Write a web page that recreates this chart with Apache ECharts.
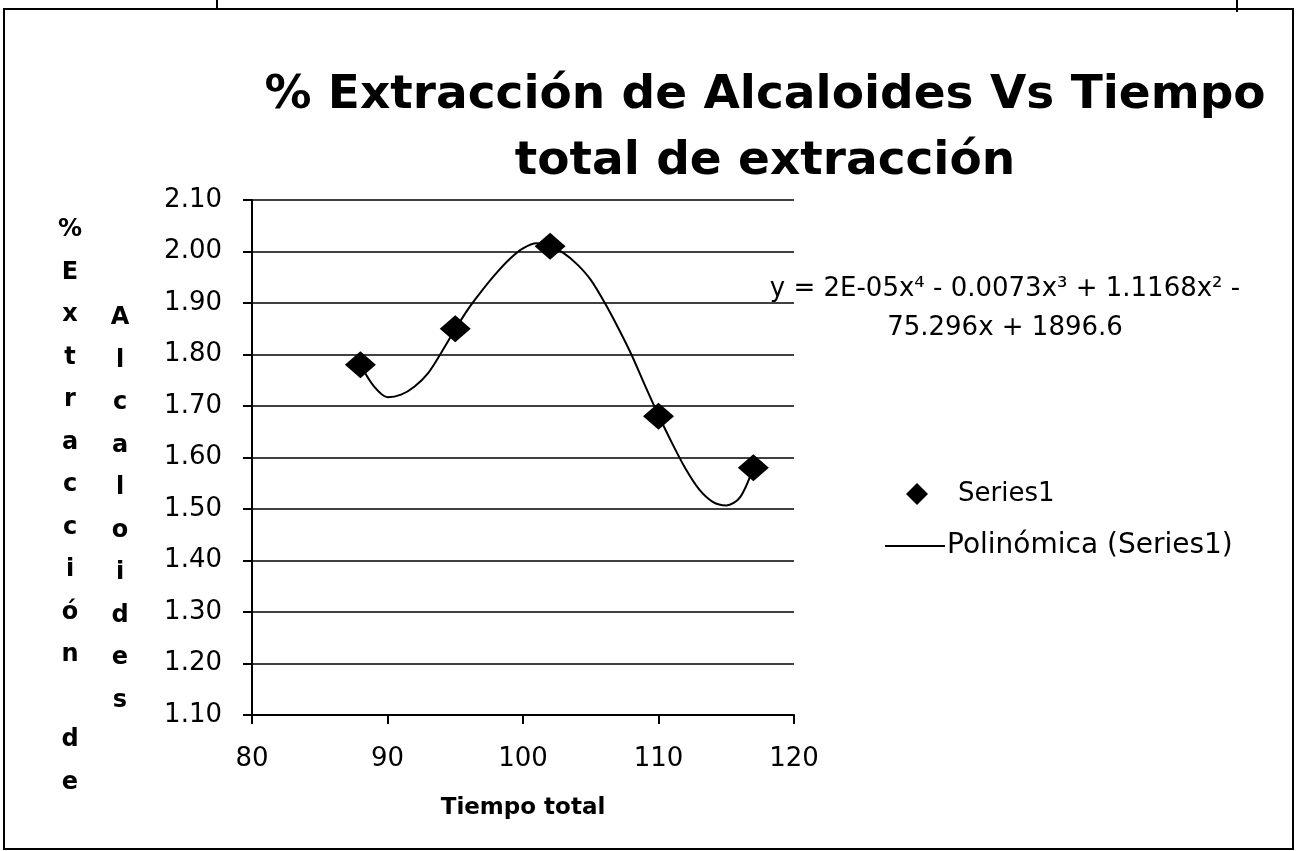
<!DOCTYPE html>
<html>
<head>
<meta charset="utf-8">
<script src="https://cdn.jsdelivr.net/npm/echarts@6/dist/echarts.min.js"></script>
<style>html,body{margin:0;padding:0;background:#fff;}#c{width:1297px;height:851px;}</style>
</head>
<body>
<div id="c"></div>
<script>
// ---- data ----
const titleLines = ['% Extracción de Alcaloides Vs Tiempo', 'total de extracción'];
const xTitle = 'Tiempo total';
const yTitleCol1 = ['%', 'E', 'x', 't', 'r', 'a', 'c', 'c', 'i', 'ó', 'n', '', 'd', 'e'];
const yTitleCol2 = ['A', 'l', 'c', 'a', 'l', 'o', 'i', 'd', 'e', 's'];
const seriesName = 'Series1';
const trendName = 'Polinómica (Series1)';
const equationLines = ['y = 2E-05x⁴ - 0.0073x³ + 1.1168x² -', '75.296x + 1896.6'];

const tiempo = [88, 95, 102, 110, 117];
const extraccion = [1.78, 1.85, 2.01, 1.68, 1.58];

// polynomial trend line
const trendX = [88, 89, 90, 91, 92, 93, 94, 95, 96, 97, 98, 99, 100, 101, 102, 103, 104, 105, 106, 107, 108, 109, 110, 111, 112, 113, 114, 115, 116, 117];
const trendY = [1.780, 1.738, 1.717, 1.722, 1.738, 1.764, 1.805, 1.849, 1.890, 1.925, 1.957, 1.985, 2.006, 2.016, 2.010, 1.997, 1.975, 1.945, 1.902, 1.853, 1.800, 1.740, 1.682, 1.628, 1.578, 1.538, 1.514, 1.507, 1.522, 1.580];

const xMin = 80, xMax = 120, xStep = 10;
const yMin = 1.1, yMax = 2.1, yStep = 0.1;

// ---- chart ----
const FONT = '"DejaVu Sans", "Open Sans", sans-serif';
const chart = echarts.init(document.getElementById('c'), null, {renderer: 'canvas'});

const option = {
  backgroundColor: '#fff',
  animation: false,
  title: {
    text: titleLines.join('\n'),
    left: 760,
    top: 58,
    textAlign: 'center',
    textStyle: {fontFamily: FONT, fontWeight: 'bold', fontSize: 47, lineHeight: 66, color: '#000'}
  },
  grid: {left: 252, top: 200, width: 542, height: 515, containLabel: false},
  xAxis: {
    type: 'value', min: xMin, max: xMax, interval: xStep,
    name: xTitle, nameLocation: 'middle', nameGap: 82,
    nameTextStyle: {fontFamily: FONT, fontWeight: 'bold', fontSize: 23, color: '#000'},
    axisLine: {lineStyle: {color: '#000', width: 2}},
    axisTick: {show: true, length: 9, lineStyle: {color: '#000', width: 2}},
    axisLabel: {fontFamily: FONT, fontSize: 26, color: '#000', margin: 31},
    splitLine: {show: false}
  },
  yAxis: {
    type: 'value', min: yMin, max: yMax, interval: yStep,
    axisLine: {show: true, lineStyle: {color: '#000', width: 2}},
    axisTick: {show: true, length: 9, lineStyle: {color: '#000', width: 2}},
    axisLabel: {fontFamily: FONT, fontSize: 26, color: '#000', margin: 30,
      formatter: v => v.toFixed(2)},
    splitLine: {show: true, lineStyle: {color: '#000', width: 1.6}}
  },
  legend: [
    {
      data: [{name: seriesName, icon: 'diamond'}],
      orient: 'vertical', left: 901, top: 476,
      itemWidth: 22, itemHeight: 22,
      textStyle: {fontFamily: FONT, fontSize: 26, color: '#000', padding: [0, 0, 0, 25]}
    },
    {
      data: [{name: trendName, icon: 'rect'}],
      orient: 'vertical', left: 880, top: 527,
      itemWidth: 60, itemHeight: 2,
      textStyle: {fontFamily: FONT, fontSize: 28, color: '#000', padding: [0, 0, 0, -3]}
    }
  ],
  series: [
    {
      name: trendName, type: 'line', smooth: 0.3,
      showSymbol: false, symbol: 'none',
      data: trendX.map((x, i) => [x, trendY[i]]),
      lineStyle: {color: '#000', width: 2},
      itemStyle: {color: '#000'},
      z: 2
    },
    {
      name: seriesName, type: 'scatter', symbol: 'diamond', symbolSize: [31, 27],
      data: tiempo.map((x, i) => [x, extraccion[i]]),
      itemStyle: {color: '#000', opacity: 1},
      z: 3
    }
  ],
  graphic: [
    {type: 'text', x: 70, y: 230 - 21.25,
      style: {text: yTitleCol1.join('\n'), fontFamily: FONT, fontWeight: 'bold', fontSize: 24, lineHeight: 42.5, fill: '#000', textAlign: 'center', textVerticalAlign: 'top'}},
    {type: 'text', x: 120, y: 318 - 21.25,
      style: {text: yTitleCol2.join('\n'), fontFamily: FONT, fontWeight: 'bold', fontSize: 24, lineHeight: 42.5, fill: '#000', textAlign: 'center', textVerticalAlign: 'top'}},
    {type: 'text', x: 1005, y: 289 - 19.5,
      style: {text: equationLines.join('\n'), fontFamily: FONT, fontSize: 26, lineHeight: 39, fill: '#000', textAlign: 'center', textVerticalAlign: 'top'}},
    // chart frame
    {type: 'rect', shape: {x: 4, y: 9, width: 1289, height: 840}, style: {fill: 'none', stroke: '#000', lineWidth: 2}},
    {type: 'line', shape: {x1: 217, y1: 0, x2: 217, y2: 9}, style: {stroke: '#000', lineWidth: 2}},
    {type: 'line', shape: {x1: 1237, y1: 0, x2: 1237, y2: 12}, style: {stroke: '#000', lineWidth: 2}}
  ]
};
chart.setOption(option);
</script>
</body>
</html>
